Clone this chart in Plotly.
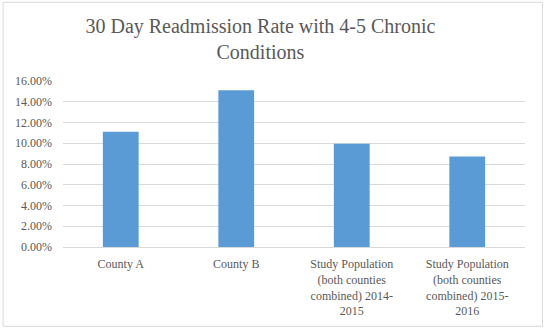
import plotly.graph_objects as go

categories = ["County A", "County B",
              "Study Population<br>(both counties<br>combined) 2014-<br>2015",
              "Study Population<br>(both counties<br>combined) 2015-<br>2016"]
rates = [0.1112, 0.1512, 0.0995, 0.0872]
y_ticks = [0, 0.02, 0.04, 0.06, 0.08, 0.10, 0.12, 0.14, 0.16]
y_tick_labels = ["0.00%", "2.00%", "4.00%", "6.00%", "8.00%", "10.00%", "12.00%", "14.00%", "16.00%"]

font_family = "Times New Roman, Liberation Serif, DejaVu Serif, serif"
text_color = "#595959"

fig = go.Figure(go.Bar(x=categories, y=rates, marker_color="#5B9BD5",
                       marker_line_width=0, width=0.31))

fig.update_layout(
    width=546, height=329,
    margin=dict(l=63, r=20.5, t=80.7, b=82.3),
    paper_bgcolor="white", plot_bgcolor="white",
    font=dict(family=font_family, color=text_color, size=12),
    title=dict(text="30 Day Readmission Rate with 4-5 Chronic<br>Conditions",
               x=0.477, xanchor="center", xref="container",
               y=0.90, yanchor="top",
               font=dict(family=font_family, size=20, color=text_color)),
    showlegend=False,
)
fig.update_yaxes(range=[0, 0.16], tickvals=y_ticks, ticktext=y_tick_labels,
                 showgrid=True, gridcolor="#D9D9D9", gridwidth=1,
                 zeroline=False, showline=False, ticks="", ticklabelstandoff=10,
                 tickfont=dict(size=12, color=text_color, family=font_family))
fig.update_xaxes(showline=True, linecolor="#D9D9D9", linewidth=1, ticks="",
                 ticklabelstandoff=6,
                 tickfont=dict(size=12, color=text_color, family=font_family))

fig.add_shape(type="rect", xref="paper", yref="paper",
              x0=-0.1297, x1=1.0378, y0=-0.478, y1=1.474,
              line=dict(color="#D9D9D9", width=1), fillcolor="rgba(0,0,0,0)", layer="below")

fig.write_html("out.html")
